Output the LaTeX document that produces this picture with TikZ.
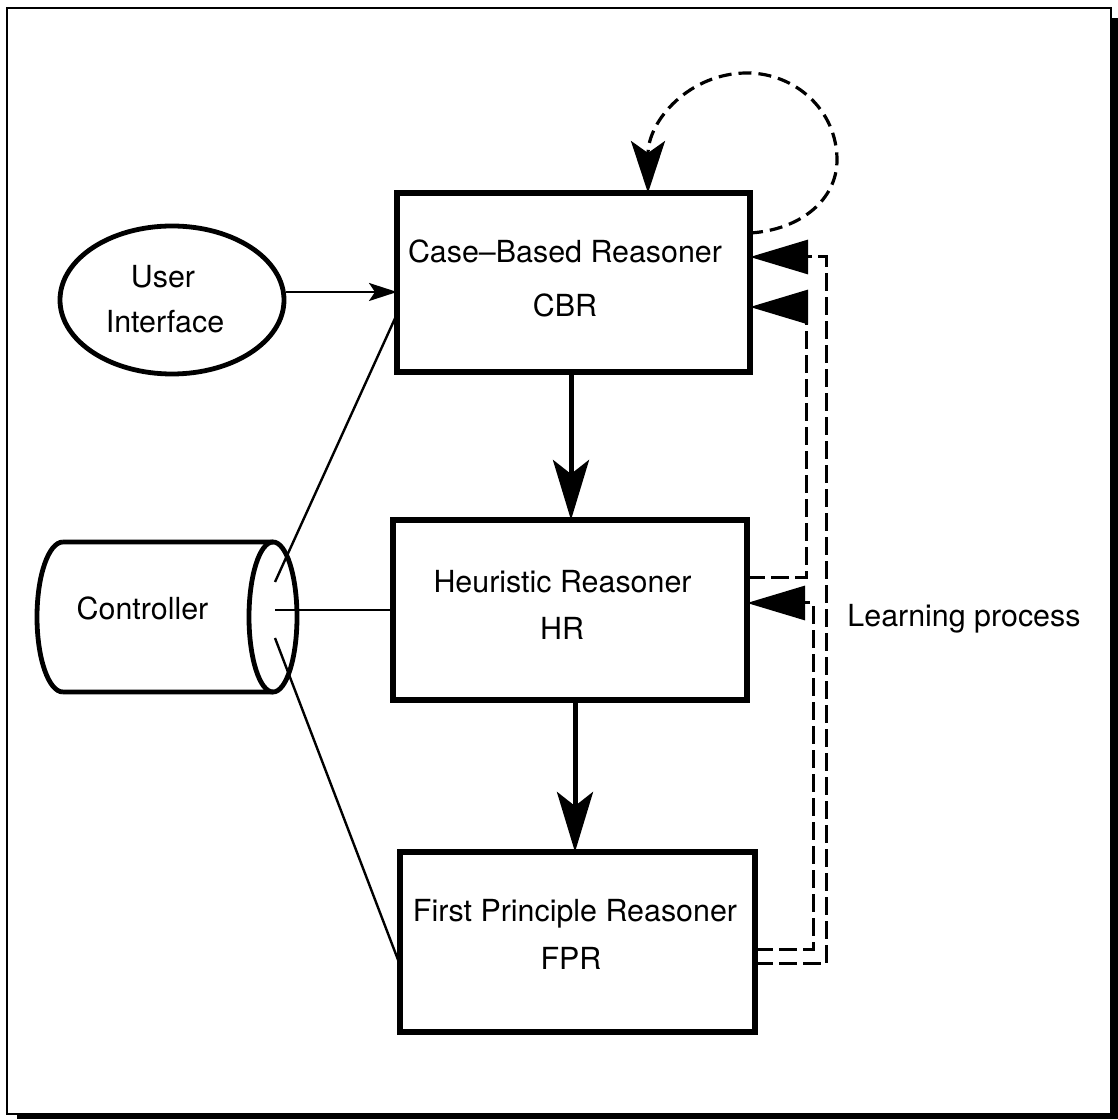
\documentclass[tikz,border=0pt]{standalone}
\usepackage{fontspec}
\setmainfont{TeX Gyre Heros}
\usetikzlibrary{arrows.meta,shapes.geometric}

\begin{document}
\begin{tikzpicture}[x=0.5pt,y=0.5pt,
  font=\fontsize{15.2pt}{18pt}\selectfont,
  reasoner/.style={draw, line width=2.8pt, inner sep=0pt, outer sep=0pt, minimum height=90pt},
  lbl/.style={anchor=base, inner sep=0pt},
  flow/.style={line width=2.5pt, -{Stealth[length=30pt,width=18pt,inset=7pt]}},
  link/.style={line width=1.2pt},
  outline/.style={line width=2.4pt},
  learnline/.style={line width=1.5pt, dash pattern=on 9pt off 3pt,
    -{Triangle[length=29pt,width=17pt]}},
  loopline/.style={line width=1.6pt, dash pattern=on 6.5pt off 3.5pt,
    -{Stealth[length=26pt,width=17pt,inset=6pt]}}
]
\useasboundingbox (0,0) rectangle (1118,1120);

% framed panel with drop shadow
\fill (17,1) rectangle (1117.5,1102);
\draw[fill=white, line width=1.2pt] (7,6) rectangle (1111,1112);

% reasoner boxes
\node[reasoner, minimum width=176.5pt, minimum height=89.5pt] (cbr) at (573.5,837.5) {};
\node[reasoner, minimum width=177pt] (hr) at (570,510) {};
\node[reasoner, minimum width=177.5pt] (fpr) at (577.5,178) {};

\node[lbl] (cbrname) at (565,857) {Case--Based Reasoner};
\node[lbl] (cbrabbr) at (565,803) {CBR};
\node[lbl] (hrname) at (562.5,527) {Heuristic Reasoner};
\node[lbl] (hrabbr) at (562,480) {HR};
\node[lbl] (fprname) at (575,198) {First Principle Reasoner};
\node[lbl] (fprabbr) at (571,150) {FPR};

% user interface
\node[draw, ellipse, outline, minimum width=112pt, minimum height=74pt, inner sep=0pt] (ui) at (172,820) {};
\node[lbl] (uitop) at (163,832) {User};
\node[lbl] (uibot) at (165,787) {Interface};

% controller drum
\draw[outline] (63,578) -- (273,578)
               (63,428) -- (273,428)
               (63,578) arc[start angle=90, end angle=270, x radius=26, y radius=75];
\draw[outline] (273,503) ellipse[x radius=24, y radius=75];
\node[lbl] (ctrl) at (142.5,500) {Controller};
\coordinate (cA) at (275,538);
\coordinate (cB) at (275,510);
\coordinate (cC) at (275,482);

% controller links
\draw[link] (cA) -- (cbr.west |- 0,806);
\draw[link] (cB) -- (hr.west);
\draw[link] (cC) -- (fpr.west |- 0,155);

% user interface to CBR
\draw[link, -{Stealth[length=14pt,width=9pt,inset=3pt]}] (ui.east |- 0,828) -- (cbr.west |- 0,828);

% main flow
\draw[flow] (cbr.south -| 571,0) -- (hr.north -| 571,0);
\draw[flow] (hr.south -| 575,0) -- (fpr.north -| 575,0);

% CBR self loop
\draw[loopline] (cbr.east |- 0,887) .. controls (800,890) and (837,920) .. (837,960)
  .. controls (837,1010) and (795,1047) .. (747,1047)
  .. controls (690,1047) and (648,1000) .. (cbr.north -| 648,0);

% learning feedback
\draw[learnline] (fpr.east |- 0,156) -| (826,863) -- (cbr.east |- 0,863);
\draw[learnline] (hr.east |- 0,542) -| (806,813) -- (cbr.east |- 0,813);
\draw[learnline] (fpr.east |- 0,170) -| (813,517) -- (hr.east |- 0,517);
\node[lbl] (learn) at (964,493) {Learning process};
\end{tikzpicture}
\end{document}
